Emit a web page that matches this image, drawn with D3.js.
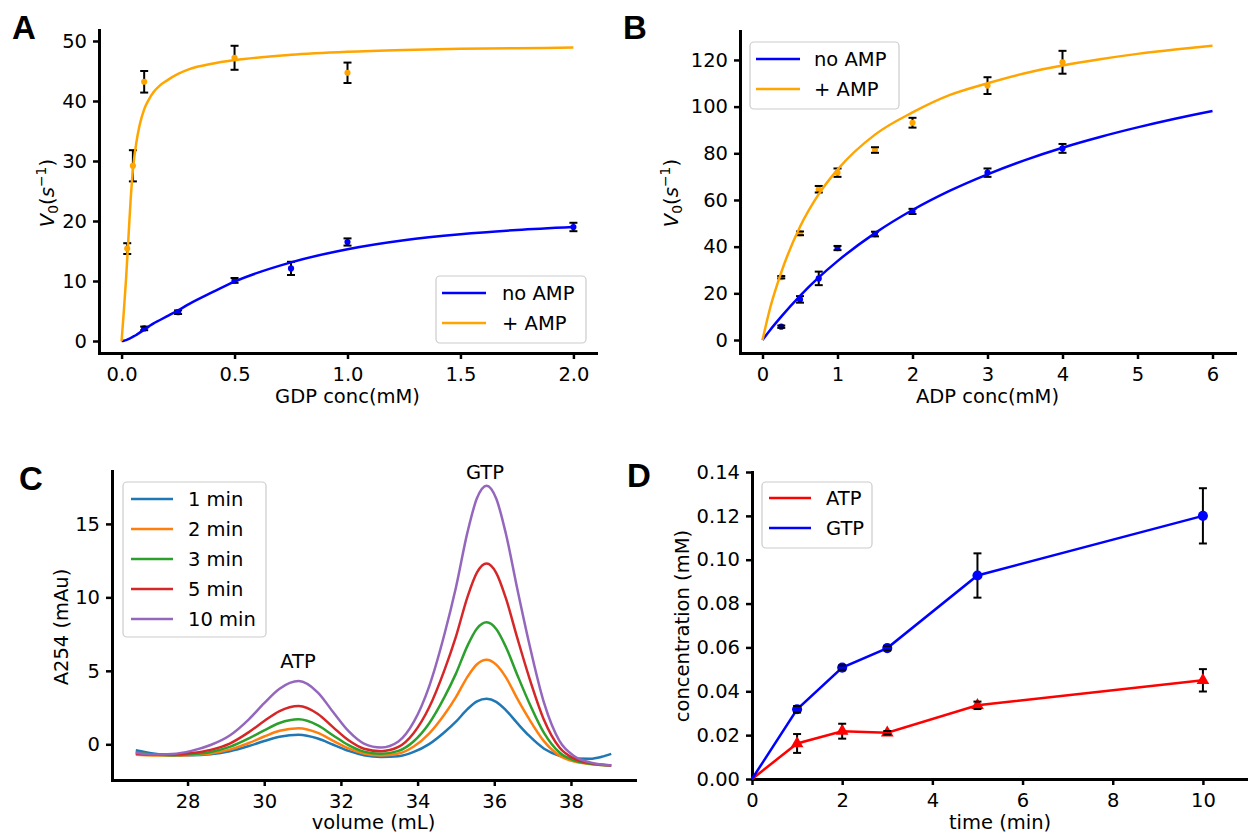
<!DOCTYPE html>
<html>
<head>
<meta charset="utf-8">
<script src="https://cdn.jsdelivr.net/npm/d3@7"></script>
<style>
  body { margin: 0; background: #fff; }
  svg text { font-family: "DejaVu Sans", sans-serif; fill: #000; }
</style>
</head>
<body>
<div class="chart"></div>
<script>
// ---------- data ----------
// Panel A: GDP titration (points + fitted curves)
var aAmpX = [0.025, 0.05, 0.1, 0.5, 1.0];
var aAmpY = [15.4, 29.2, 43.2, 47.2, 44.7];
var aAmpErr = [0.9, 2.6, 1.8, 2.0, 1.7];
var aNoX = [0.1, 0.25, 0.5, 0.75, 1.0, 2.0];
var aNoY = [2.1, 4.8, 10.1, 12.1, 16.5, 19.0];
var aNoErr = [0.3, 0.3, 0.4, 1.1, 0.6, 0.7];
var aFitX = [0, 0.01, 0.02, 0.03, 0.04, 0.05, 0.065, 0.08, 0.1, 0.12, 0.14, 0.17, 0.2, 0.25, 0.3, 0.4, 0.5, 0.75, 1.0, 1.25, 1.5, 1.75, 2.0];
var aFitAmp = [0, 5, 10.5, 17, 23.5, 28.5, 33, 36, 38.6, 40.2, 41.4, 42.6, 43.4, 44.5, 45.3, 46.2, 46.8, 47.7, 48.2, 48.5, 48.7, 48.8, 48.9];
var aFitNo = [0, 0.05, 0.15, 0.3, 0.5, 0.7, 1.0, 1.4, 1.9, 2.4, 2.9, 3.5, 4.1, 5.1, 6.2, 8.1, 9.9, 13.1, 15.3, 16.8, 17.8, 18.5, 19.0];

// Panel B: ADP titration
var bX = [0.25, 0.5, 0.75, 1, 1.5, 2, 3, 4];
var bAmpY = [26.9, 45.7, 64.6, 71.7, 81.4, 93.1, 109, 119];
var bAmpErr = [0.5, 0.8, 1.4, 1.8, 1.2, 2.1, 3.6, 4.9];
var bNoY = [5.7, 17.4, 26.4, 39.4, 45.4, 55.1, 71.7, 82.1];
var bNoErr = [0.5, 1.4, 2.9, 0.9, 1.0, 1.1, 1.8, 1.9];
var bFitX = [0, 0.1, 0.25, 0.5, 0.75, 1, 1.5, 2, 2.5, 3, 3.5, 4, 4.5, 5, 5.5, 6];
var bFitAmp = [0, 13.5, 29, 48.5, 62.5, 73, 88, 97.5, 105, 110, 114.3, 117.6, 120.3, 122.6, 124.5, 126.1];
var bFitNo = [0, 4.2, 10, 18.9, 26.8, 33.8, 45.8, 55.7, 64, 71, 77.1, 82.4, 87, 91.1, 94.8, 98.1];

// Panel C: chromatograms (A254 vs volume)
var volX = [26.65, 27.1, 27.6, 28.1, 28.6, 29.1, 29.6, 30.0, 30.4, 30.9, 31.4, 31.8, 32.2, 32.6, 33.05, 33.5, 33.9,
            34.3, 34.7, 35.0, 35.3, 35.55, 35.8, 36.05, 36.3, 36.6, 36.9, 37.3, 37.7, 38.1, 38.5, 38.8, 39.05];
var a1min = [-0.40, -0.62, -0.74, -0.74, -0.67, -0.47, -0.12, 0.22, 0.51, 0.65, 0.39, -0.03, -0.45, -0.74, -0.86, -0.81, -0.52,
             0.01, 0.82, 1.54, 2.39, 2.92, 3.10, 2.89, 2.33, 1.44, 0.60, -0.30, -0.78, -0.97, -0.98, -0.85, -0.65];
var a2min = [-0.72, -0.76, -0.77, -0.73, -0.62, -0.36, 0.09, 0.53, 0.92, 1.10, 0.78, 0.24, -0.28, -0.63, -0.76, -0.63, -0.15,
             0.73, 2.03, 3.21, 4.59, 5.45, 5.75, 5.42, 4.57, 3.11, 1.76, 0.20, -0.77, -1.18, -1.35, -1.41, -1.44];
var a3min = [-0.52, -0.70, -0.74, -0.68, -0.52, -0.18, 0.40, 0.95, 1.45, 1.70, 1.29, 0.60, -0.06, -0.50, -0.65, -0.45, 0.21,
             1.42, 3.21, 4.81, 6.70, 7.88, 8.30, 7.85, 6.64, 4.72, 2.88, 0.76, -0.56, -1.11, -1.32, -1.41, -1.44];
var a5min = [-0.62, -0.72, -0.70, -0.60, -0.38, 0.05, 0.83, 1.58, 2.26, 2.60, 2.06, 1.15, 0.27, -0.30, -0.47, -0.18, 0.77,
             2.50, 5.05, 7.33, 10.02, 11.70, 12.30, 11.67, 9.96, 7.24, 4.64, 1.64, -0.22, -0.99, -1.28, -1.39, -1.44];
var a10min = [-0.58, -0.70, -0.66, -0.45, -0.05, 0.60, 1.70, 2.80, 3.78, 4.30, 3.52, 2.18, 0.89, 0.05, -0.22, 0.19, 1.52,
              3.93, 7.49, 10.67, 14.42, 16.76, 17.60, 16.73, 14.36, 10.58, 6.98, 2.80, 0.23, -0.83, -1.23, -1.38, -1.43];
var chromLabels = ["1 min", "2 min", "3 min", "5 min", "10 min"];
var chromColors = ["#1f77b4", "#ff7f0e", "#2ca02c", "#d62728", "#9467bd"];

// Panel D: product formation over time
var timeMin = [0, 1, 2, 3, 5, 10];
var atpConc = [0, 0.0162, 0.0218, 0.0211, 0.0336, 0.0450];
var atpErr = [0, 0.0043, 0.0034, 0.0008, 0.0017, 0.0051];
var gtpConc = [0, 0.0318, 0.0508, 0.0597, 0.0928, 0.1200];
var gtpErr = [0, 0.0015, 0.0010, 0.0010, 0.0101, 0.0126];

var ORANGE = "#ffa500", BLUE = "#0000ff", RED = "#ff0000";
var FS = "19.5px";

// ---------- svg ----------
var svg = d3.select(".chart")
  .append("svg")
  .attr("width", 1248)
  .attr("height", 834);

// build one panel: scales + left/bottom axes
function makePanel(o) {
  var x = d3.scaleLinear().domain(o.xDomain).range(o.xRange);
  var y = d3.scaleLinear().domain(o.yDomain).range(o.yRange);
  var g = svg.append("g");

  var xAxis = d3.axisBottom(x).tickValues(o.xTicks).tickFormat(o.xFmt)
    .tickSize(6).tickSizeOuter(0).tickPadding(8);
  var yAxis = d3.axisLeft(y).tickValues(o.yTicks).tickFormat(o.yFmt)
    .tickSize(6).tickSizeOuter(0).tickPadding(6);

  var gx = g.append("g").attr("transform", `translate(0,${o.yRange[0]})`).call(xAxis);
  var gy = g.append("g").attr("transform", `translate(${o.xRange[0]},0)`).call(yAxis);
  [gx, gy].forEach(function (ax) {
    ax.select(".domain").attr("stroke", "#000").attr("stroke-width", 3).attr("stroke-linecap", "square");
    ax.selectAll(".tick line").attr("stroke", "#000").attr("stroke-width", 2.5);
    ax.selectAll(".tick text").style("font-size", FS).style("font-family", "DejaVu Sans").attr("fill", "#000");
  });

  // x label
  svg.append("text")
    .attr("x", (o.xRange[0] + o.xRange[1]) / 2)
    .attr("y", o.xLabelY)
    .attr("text-anchor", "middle")
    .style("font-size", FS)
    .text(o.xLabel);

  // panel letter
  svg.append("text")
    .attr("x", o.letterPos[0]).attr("y", o.letterPos[1])
    .style("font-family", "'Liberation Sans', Arial, sans-serif")
    .style("font-weight", "bold")
    .style("font-size", "33px")
    .text(o.letter);

  return { x: x, y: y, g: g };
}

function yLabel(cx, cy, txt) {
  svg.append("text")
    .attr("transform", `translate(${cx},${cy}) rotate(-90)`)
    .attr("text-anchor", "middle")
    .attr("dy", "0.35em")
    .style("font-size", FS)
    .text(txt);
}

// V_0(s^-1) label in mathtext style
function yLabelRate(cx, cy) {
  var t = svg.append("text")
    .attr("transform", `translate(${cx},${cy}) rotate(-90)`)
    .attr("text-anchor", "middle")
    .attr("dy", "0.35em")
    .style("font-size", FS);
  t.append("tspan").style("font-style", "italic").text("V");
  t.append("tspan").attr("dy", 4).style("font-size", "14px").text("0");
  t.append("tspan").attr("dy", -4).text("(");
  t.append("tspan").style("font-style", "italic").text("s");
  t.append("tspan").attr("dy", -8).style("font-size", "14px").text("\u22121");
  t.append("tspan").attr("dy", 8).text(")");
}

function fitLine(p, xs, ys, color, curve) {
  p.g.append("path")
    .datum(xs.map(function (d, i) { return [d, ys[i]]; }))
    .attr("fill", "none")
    .attr("stroke", color)
    .attr("stroke-width", 2.5)
    .attr("d", d3.line()
      .x(function (d) { return p.x(d[0]); })
      .y(function (d) { return p.y(d[1]); })
      .curve(curve || d3.curveMonotoneX));
}

// error bars + markers
function errPoints(p, xs, ys, errs, color, marker, size, cap) {
  var pts = xs.map(function (d, i) { return { x: d, y: ys[i], e: errs[i] }; })
    .filter(function (d) { return d.x > 0; });
  var grp = p.g.append("g");
  grp.selectAll("line.bar").data(pts).enter().append("line")
    .attr("x1", function (d) { return p.x(d.x); })
    .attr("x2", function (d) { return p.x(d.x); })
    .attr("y1", function (d) { return p.y(d.y - d.e); })
    .attr("y2", function (d) { return p.y(d.y + d.e); })
    .attr("stroke", "#000").attr("stroke-width", 2);
  grp.selectAll("path.mk").data(pts).enter().append("path")
    .attr("transform", function (d) { return `translate(${p.x(d.x)},${p.y(d.y)})`; })
    .attr("d", d3.symbol().type(marker).size(size))
    .attr("fill", color);
  [-1, 1].forEach(function (s) {
    grp.selectAll("line.cap" + s).data(pts).enter().append("line")
      .attr("x1", function (d) { return p.x(d.x) - cap; })
      .attr("x2", function (d) { return p.x(d.x) + cap; })
      .attr("y1", function (d) { return p.y(d.y + s * d.e); })
      .attr("y2", function (d) { return p.y(d.y + s * d.e); })
      .attr("stroke", "#000").attr("stroke-width", 2);
  });
}

function legend(x0, y0, w, h, labels, colors, lineX, textX, rowY) {
  svg.append("rect")
    .attr("x", x0).attr("y", y0).attr("width", w).attr("height", h)
    .attr("rx", 4)
    .attr("fill", "#fff").attr("fill-opacity", 0.8)
    .attr("stroke", "#cccccc").attr("stroke-width", 1.2);
  labels.forEach(function (lab, i) {
    svg.append("line")
      .attr("x1", lineX[0]).attr("x2", lineX[1])
      .attr("y1", rowY[i]).attr("y2", rowY[i])
      .attr("stroke", colors[i]).attr("stroke-width", 2.5);
    svg.append("text")
      .attr("x", textX).attr("y", rowY[i]).attr("dy", "0.35em")
      .style("font-size", FS)
      .text(lab);
  });
}

// ---------- Panel A ----------
var pA = makePanel({
  xDomain: [-0.1, 2.1], xRange: [99, 596],
  yDomain: [-2, 51.83], yRange: [353, 30],
  xTicks: [0, 0.5, 1.0, 1.5, 2.0], xFmt: d3.format(".1f"),
  yTicks: [0, 10, 20, 30, 40, 50], yFmt: d3.format("d"),
  xLabel: "GDP conc(mM)", xLabelY: 403,
  letter: "A", letterPos: [12, 39]
});
yLabelRate(47, 193);
errPoints(pA, aNoX, aNoY, aNoErr, BLUE, d3.symbolCircle, 30, 4);
errPoints(pA, aAmpX, aAmpY, aAmpErr, ORANGE, d3.symbolCircle, 30, 4);
fitLine(pA, aFitX, aFitNo, BLUE);
fitLine(pA, aFitX, aFitAmp, ORANGE);
legend(436, 276, 150, 67, ["no AMP", "+ AMP"], [BLUE, ORANGE], [442, 486], 502, [293, 323]);

// ---------- Panel B ----------
var pB = makePanel({
  xDomain: [-0.3, 6.3], xRange: [740, 1235],
  yDomain: [-5.57, 132.4], yRange: [353, 31],
  xTicks: [0, 1, 2, 3, 4, 5, 6], xFmt: d3.format("d"),
  yTicks: [0, 20, 40, 60, 80, 100, 120], yFmt: d3.format("d"),
  xLabel: "ADP conc(mM)", xLabelY: 403,
  letter: "B", letterPos: [623, 39]
});
yLabelRate(671, 193);
errPoints(pB, bX, bNoY, bNoErr, BLUE, d3.symbolCircle, 30, 4);
errPoints(pB, bX, bAmpY, bAmpErr, ORANGE, d3.symbolCircle, 30, 4);
fitLine(pB, bFitX, bFitNo, BLUE);
fitLine(pB, bFitX, bFitAmp, ORANGE);
legend(750, 42, 149, 67, ["no AMP", "+ AMP"], [BLUE, ORANGE], [756, 800], 814, [59, 89]);

// ---------- Panel C ----------
var pC = makePanel({
  xDomain: [26.03, 39.67], xRange: [112, 635],
  yDomain: [-2.43, 18.6], yRange: [780, 471],
  xTicks: [28, 30, 32, 34, 36, 38], xFmt: d3.format("d"),
  yTicks: [0, 5, 10, 15], yFmt: d3.format("d"),
  xLabel: "volume (mL)", xLabelY: 829,
  letter: "C", letterPos: [19, 490]
});
yLabel(61, 627, "A254 (mAu)");
[a1min, a2min, a3min, a5min, a10min].forEach(function (ys, i) {
  fitLine(pC, volX, ys, chromColors[i]);
});
svg.append("text").attr("x", 298).attr("y", 668).attr("text-anchor", "middle").style("font-size", FS).text("ATP");
svg.append("text").attr("x", 485).attr("y", 479).attr("text-anchor", "middle").style("font-size", FS).text("GTP");
legend(123, 482, 143, 155, chromLabels, chromColors, [131, 173], 188, [499, 529, 559, 589, 619]);

// ---------- Panel D ----------
var pD = makePanel({
  xDomain: [0, 11], xRange: [752, 1248],
  yDomain: [0, 0.14], yRange: [779, 472],
  xTicks: [0, 2, 4, 6, 8, 10], xFmt: d3.format("d"),
  yTicks: [0, 0.02, 0.04, 0.06, 0.08, 0.10, 0.12, 0.14], yFmt: d3.format(".2f"),
  xLabel: "time (min)", xLabelY: 829,
  letter: "D", letterPos: [627, 487]
});
yLabel(682, 626, "concentration (mM)");
fitLine(pD, timeMin, atpConc, RED, d3.curveLinear);
fitLine(pD, timeMin, gtpConc, BLUE, d3.curveLinear);
errPoints(pD, timeMin, atpConc, atpErr, RED, d3.symbolTriangle, 70, 4);
errPoints(pD, timeMin, gtpConc, gtpErr, BLUE, d3.symbolCircle, 80, 4);
legend(762, 482, 110, 66, ["ATP", "GTP"], [RED, BLUE], [769, 811], 826, [498, 528]);
</script>
</body>
</html>
